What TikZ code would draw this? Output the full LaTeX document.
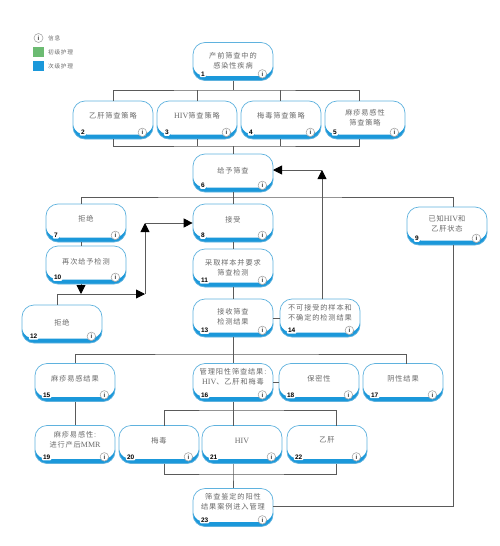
\documentclass[tikz,border=0pt]{standalone}
\usepackage{fontspec}
\setmainfont{Noto Sans CJK SC}[LetterSpace=12]
\newfontfamily\latf{Liberation Serif}
\newfontfamily\numf{Liberation Sans}
\usetikzlibrary{arrows.meta}
\definecolor{bandblue}{HTML}{1B98DA}
\definecolor{edgeblue}{HTML}{5FB2DE}
\definecolor{linegray}{HTML}{5A5A5A}
\definecolor{txtgray}{HTML}{6A6A6A}
\definecolor{caregreen}{HTML}{6CBB72}
\tikzset{
  screenbox/.style={draw=edgeblue,line width=0.7pt,fill=white,rounded corners=12pt,
    minimum width=80pt,minimum height=38pt,inner sep=0pt,
    path picture={
      \fill[bandblue,sharp corners]
        ([yshift=14pt]path picture bounding box.south west)
        .. controls ([xshift=2pt,yshift=7pt]path picture bounding box.south west)
        and ([xshift=6pt,yshift=4.5pt]path picture bounding box.south west)
        .. ([xshift=14pt,yshift=4.5pt]path picture bounding box.south west)
        -- ([xshift=-14pt,yshift=4.5pt]path picture bounding box.south east)
        .. controls ([xshift=-6pt,yshift=4.5pt]path picture bounding box.south east)
        and ([xshift=-2pt,yshift=7pt]path picture bounding box.south east)
        .. ([yshift=14pt]path picture bounding box.south east)
        -- (path picture bounding box.south east)
        -- (path picture bounding box.south west) -- cycle;
    }},
  boxtext/.style={text=txtgray,font=\fontsize{7.2}{10}\selectfont,align=center,inner sep=0pt},
  badge/.style={fill=white,rounded corners=1pt,inner xsep=1.2pt,inner ysep=0.8pt,anchor=west,
    text=black,font=\numf\bfseries\fontsize{6.5}{7}\selectfont},
  infodot/.style={circle,draw=black!35,fill=white,line width=0.6pt,minimum size=8.5pt,inner sep=0pt,
    text=black!80,font=\numf\bfseries\fontsize{6}{6}\selectfont},
  conn/.style={draw=linegray,line width=0.9pt},
  tipconn/.style={conn,-{Triangle[length=9pt,width=9pt,color=black]}},
  legendtext/.style={text=txtgray,anchor=west,inner sep=0pt,font=\fontsize{5.7}{7}\selectfont},
}
\newcommand{\lat}[1]{{\latf\fontsize{8}{10}\selectfont #1}}
% id, centre x, centre y, text y, text
\newcommand{\bx}[5]{%
  \node[screenbox] (n#1) at (#2,#3) {};
  \node[boxtext] (t#1) at (#2,#4) {#5};
  \node[badge] (b#1) at ([xshift=7pt,yshift=6.7pt]n#1.south west) {#1};
  \node[infodot] (i#1) at ([xshift=-11pt,yshift=7pt]n#1.south east) {i};
}
\begin{document}
\begin{tikzpicture}[x=1pt,y=-1pt]
\useasboundingbox (0,0) rectangle (500,546);
% legend
\node[infodot,minimum size=9pt] (lgi) at (38.5,38) {i};
\node[legendtext] (lgt1) at (48,38) {信息};
\node[fill=caregreen,minimum size=10.5pt,inner sep=0pt] (lgg) at (38.5,52) {};
\node[legendtext] (lgt2) at (48,52) {初级护理};
\node[fill=bandblue,minimum size=10.5pt,inner sep=0pt] (lgb) at (38.5,66) {};
\node[legendtext] (lgt3) at (48,66) {次级护理};
% boxes
\bx{1}{233}{61.5}{60.5}{产前筛查中的\\感染性疾病}
\bx{2}{113}{120}{116}{乙肝筛查策略}
\bx{3}{197}{120}{116}{\lat{HIV}筛查策略}
\bx{4}{281}{120}{116}{梅毒筛查策略}
\bx{5}{365}{120}{118}{麻疹易感性\\筛查策略}
\bx{6}{233}{173}{171}{给予筛查}
\bx{7}{86}{223}{219}{拒绝}
\bx{8}{233}{223}{220}{接受}
\bx{9}{447}{226}{224}{已知\lat{HIV}和\\乙肝状态}
\bx{10}{86}{265}{262}{再次给予检测}
\bx{11}{233}{268}{267.5}{采取样本并要求\\筛查检测}
\bx{12}{62}{324}{323}{拒绝}
\bx{13}{233}{318}{316.5}{接收筛查\\检测结果}
\bx{14}{320}{318}{313}{不可接受的样本和\\不确定的检测结果}
\bx{15}{75}{382.5}{379}{麻疹易感结果}
\bx{16}{233}{382.5}{377}{管理阳性筛查结果:\\\lat{HIV}、乙肝和梅毒}
\bx{18}{319}{382.5}{379}{保密性}
\bx{17}{403}{382.5}{379}{阴性结果}
\bx{19}{75}{444.5}{440}{麻疹易感性:\\进行产后\lat{MMR}}
\bx{20}{159}{444.5}{441}{梅毒}
\bx{21}{242}{444.5}{441}{\lat{HIV}}
\bx{22}{327}{444.5}{440}{乙肝}
\bx{23}{233}{507.5}{502}{筛查鉴定的阳性\\结果案例进入管理}
% junction coordinates
\coordinate (busA) at (233,90);
\coordinate (busB) at (233,146);
\coordinate (busC) at (233,197);
\coordinate (busD) at (81,294);
\coordinate (rejectCorner) at (145,294);
\coordinate (upCorner) at (145,223);
\coordinate (rightC) at (322,170);
\coordinate (sixEntry) at (273,170);
\coordinate (busE) at (233,354);
\coordinate (busF) at (233,410);
\coordinate (busG) at (233,474);
\coordinate (busCorner) at (453,506);
% connectors
\draw[conn] (n1.south) -- (busA);
\draw[conn] (113,101) |- (busA) -| (359,101);
\draw[conn] (197,101) -- (197,90);
\draw[conn] (280,101) -- (280,90);
\draw[conn] (113,139) |- (busB) -| (359,139);
\draw[conn] (197,139) -- (197,146);
\draw[conn] (280,139) -- (280,146);
\draw[conn] (busB) -- (n6.north);
\draw[conn] (n6.south) -- (n8.north);
\draw[conn] (81,204) |- (busC) -| (453,207);
\draw[conn] (81,242) -- (81,246);
\draw[tipconn] (81,284) -- (busD);
\draw[conn] (57,305) |- (busD);
\draw[tipconn] (busD) -- (rejectCorner);
\draw[tipconn] (rejectCorner) -- (upCorner);
\draw[tipconn] (upCorner) -- (n8.west);
\draw[conn] (n8.south) -- (n11.north);
\draw[conn] (n11.south) -- (n13.north);
\draw[conn] (n13.east) -- (n14.west);
\draw[tipconn] (322,299) -- (rightC);
\draw[tipconn] (rightC) -- (sixEntry);
\draw[conn] (n13.south) -- (n16.north);
\draw[conn] (n15.north) |- (busE) -| (406,363.5);
\draw[conn] (n15.south) -- (n19.north);
\draw[conn] (n16.east) -- (n18.west);
\draw[conn] (n16.south) -- (233,425.5);
\draw[conn] (164,425.5) |- (busF) -| (336,425.5);
\draw[conn] (164,463.5) |- (busG) -| (336,463.5);
\draw[conn] (233,463.5) -- (busG) -- (n23.north);
\draw[conn] (453,245) -- (busCorner) -- (n23.east |- busCorner);
\end{tikzpicture}
\end{document}
